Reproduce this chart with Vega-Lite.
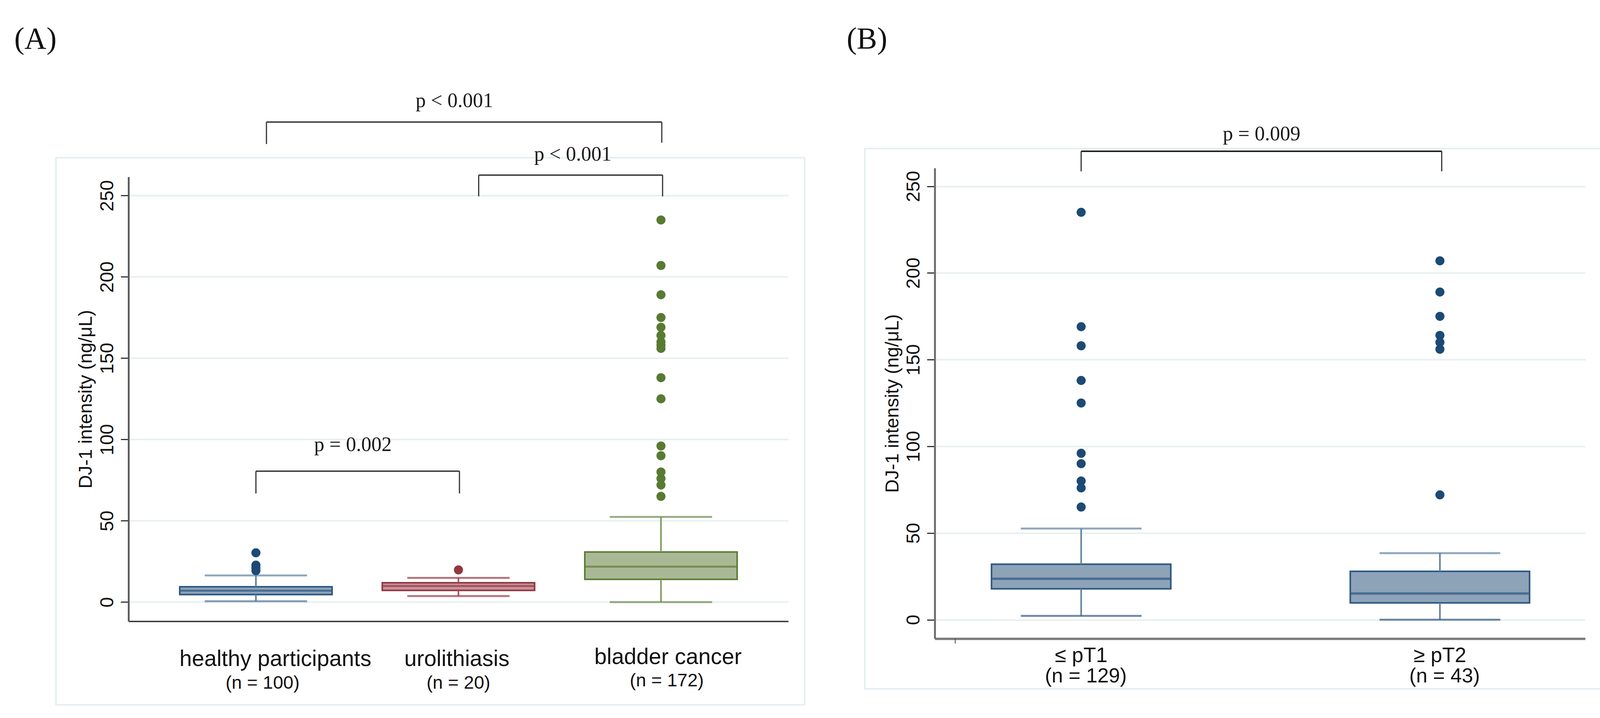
{
  "$schema": "https://vega.github.io/schema/vega-lite/v6.json",
  "background": "white",
  "padding": {"left": 36, "top": 62, "right": 20, "bottom": 10},
  "spacing": 105,
  "datasets": {
    "boxA": [
      {"grp": "healthy participants", "n": "(n = 100)", "pos": 1, "lo": 0.5, "q1": 4.6, "med": 7.0, "q3": 9.4, "hi": 16.4},
      {"grp": "urolithiasis", "n": "(n = 20)", "pos": 2, "lo": 3.7, "q1": 7.2, "med": 9.9, "q3": 11.9, "hi": 14.9},
      {"grp": "bladder cancer", "n": "(n = 172)", "pos": 3, "lo": 0, "q1": 14.0, "med": 21.8, "q3": 30.8, "hi": 52.4}
    ],
    "outA": [
      {"grp": "healthy participants", "pos": 1, "v": 30.3},
      {"grp": "healthy participants", "pos": 1, "v": 22.7},
      {"grp": "healthy participants", "pos": 1, "v": 21.0},
      {"grp": "healthy participants", "pos": 1, "v": 19.3},
      {"grp": "urolithiasis", "pos": 2, "v": 19.8},
      {"grp": "bladder cancer", "pos": 3, "v": 235},
      {"grp": "bladder cancer", "pos": 3, "v": 207},
      {"grp": "bladder cancer", "pos": 3, "v": 189},
      {"grp": "bladder cancer", "pos": 3, "v": 175},
      {"grp": "bladder cancer", "pos": 3, "v": 169},
      {"grp": "bladder cancer", "pos": 3, "v": 164},
      {"grp": "bladder cancer", "pos": 3, "v": 160},
      {"grp": "bladder cancer", "pos": 3, "v": 158},
      {"grp": "bladder cancer", "pos": 3, "v": 156},
      {"grp": "bladder cancer", "pos": 3, "v": 138},
      {"grp": "bladder cancer", "pos": 3, "v": 125},
      {"grp": "bladder cancer", "pos": 3, "v": 96},
      {"grp": "bladder cancer", "pos": 3, "v": 90},
      {"grp": "bladder cancer", "pos": 3, "v": 80},
      {"grp": "bladder cancer", "pos": 3, "v": 76},
      {"grp": "bladder cancer", "pos": 3, "v": 72},
      {"grp": "bladder cancer", "pos": 3, "v": 65}
    ],
    "brA": [
      {"xa": 1.052, "xb": 3.004, "top": 295.2, "la": 281.7, "lb": 282.5, "xt": 1.98, "yt": 304.3, "label": "p < 0.001"},
      {"xa": 2.1, "xb": 3.008, "top": 262.6, "la": 249.5, "lb": 249.5, "xt": 2.565, "yt": 271.4, "label": "p < 0.001"},
      {"xa": 1.0, "xb": 2.005, "top": 80.5, "la": 66.8, "lb": 66.8, "xt": 1.479, "yt": 92.8, "label": "p = 0.002"}
    ],
    "boxB": [
      {"grp": "≤ pT1", "n": "(n = 129)", "pos": 1, "lo": 2.2, "q1": 17.8, "med": 23.6, "q3": 32.0, "hi": 52.6},
      {"grp": "≥ pT2", "n": "(n = 43)", "pos": 2, "lo": 0, "q1": 9.7, "med": 15.1, "q3": 27.9, "hi": 38.4}
    ],
    "outB": [
      {"pos": 1, "v": 235}, {"pos": 1, "v": 169}, {"pos": 1, "v": 158}, {"pos": 1, "v": 138},
      {"pos": 1, "v": 125}, {"pos": 1, "v": 96}, {"pos": 1, "v": 90}, {"pos": 1, "v": 80},
      {"pos": 1, "v": 76}, {"pos": 1, "v": 65},
      {"pos": 2, "v": 207}, {"pos": 2, "v": 189}, {"pos": 2, "v": 175}, {"pos": 2, "v": 164},
      {"pos": 2, "v": 160}, {"pos": 2, "v": 156}, {"pos": 2, "v": 72}
    ],
    "brB": [
      {"xa": 1.0, "xb": 2.005, "top": 270.2, "la": 258.6, "lb": 258.6, "xt": 1.503, "yt": 276.6, "label": "p = 0.009"}
    ]
  },
  "hconcat": [
    {
      "width": 1689,
      "height": 1159.5,
      "resolve": {"scale": {"color": "independent"}},
      "layer": [
        {
          "data": {"name": "boxA"},
          "mark": {"type": "bar", "size": 390, "strokeWidth": 4},
          "encoding": {
            "x": {"field": "pos", "type": "quantitative", "scale": {"domain": [0.3806, 3.619], "nice": false, "zero": false},
                  "axis": {"title": null, "labels": false, "ticks": false, "grid": false, "domainColor": "#333333", "domainWidth": 3.5}},
            "y": {"field": "q1", "type": "quantitative", "scale": {"domain": [-11.8, 261.5], "range": [1159.5, 22.5], "nice": false, "zero": false},
                  "axis": {"title": "DJ-1 intensity (ng/μL)", "values": [0, 50, 100, 150, 200, 250], "grid": true, "gridColor": "#E8EFF1", "gridWidth": 4,
                           "domainColor": "#555555", "domainWidth": 4.5, "tickColor": "#333333", "tickSize": 20, "tickWidth": 3,
                           "labelAngle": -90, "labelAlign": "center", "labelBaseline": "alphabetic", "labelPadding": 20,
                           "labelFont": "Liberation Sans", "labelFontSize": 48, "labelColor": "#111111",
                           "titleFont": "Liberation Sans", "titleFontSize": 48, "titleFontWeight": "normal", "titleColor": "#111111",
                           "titleAngle": -90, "titleAlign": "center", "titleBaseline": "alphabetic", "titleX": -95, "titleY": 591}},
            "y2": {"field": "q3"},
            "fill": {"field": "grp", "type": "nominal", "scale": {"domain": ["healthy participants", "urolithiasis", "bladder cancer"], "range": ["#8DA3B8", "#C8939A", "#AAB995"]}, "legend": null},
            "stroke": {"field": "grp", "type": "nominal", "scale": {"domain": ["healthy participants", "urolithiasis", "bladder cancer"], "range": ["#2A5682", "#923441", "#5B7B36"]}, "legend": null}
          }
        },
        {
          "data": {"values": [{}]},
          "mark": {"type": "rect", "filled": false, "stroke": "#E6EEF1", "strokeWidth": 4},
          "encoding": {
            "x": {"datum": 0.0125, "type": "quantitative", "scale": {"domain": [0.3806, 3.619], "nice": false, "zero": false}},
            "x2": {"datum": 3.7095},
            "y": {"datum": 273.3, "type": "quantitative", "scale": {"domain": [-11.8, 261.5], "range": [1159.5, 22.5], "nice": false, "zero": false}},
            "y2": {"datum": -63.2}
          }
        },
        {
          "data": {"name": "boxA"},
          "mark": {"type": "rule", "strokeWidth": 4},
          "encoding": {
            "x": {"field": "pos", "type": "quantitative", "scale": {"domain": [0.3806, 3.619], "nice": false, "zero": false}},
            "y": {"field": "lo", "type": "quantitative", "scale": {"domain": [-11.8, 261.5], "range": [1159.5, 22.5], "nice": false, "zero": false}},
            "y2": {"field": "q1"},
            "color": {"field": "grp", "type": "nominal", "scale": {"domain": ["healthy participants", "urolithiasis", "bladder cancer"], "range": ["#5E81A2", "#A4505A", "#7F9B62"]}, "legend": null}
          }
        },
        {
          "data": {"name": "boxA"},
          "mark": {"type": "rule", "strokeWidth": 4},
          "encoding": {
            "x": {"field": "pos", "type": "quantitative", "scale": {"domain": [0.3806, 3.619], "nice": false, "zero": false}},
            "y": {"field": "q3", "type": "quantitative", "scale": {"domain": [-11.8, 261.5], "range": [1159.5, 22.5], "nice": false, "zero": false}},
            "y2": {"field": "hi"},
            "color": {"field": "grp", "type": "nominal", "scale": {"domain": ["healthy participants", "urolithiasis", "bladder cancer"], "range": ["#5E81A2", "#A4505A", "#7F9B62"]}, "legend": null}
          }
        },
        {
          "data": {"name": "boxA"},
          "mark": {"type": "tick", "orient": "horizontal", "size": 262, "thickness": 5},
          "encoding": {
            "x": {"field": "pos", "type": "quantitative", "scale": {"domain": [0.3806, 3.619], "nice": false, "zero": false}},
            "y": {"field": "lo", "type": "quantitative", "scale": {"domain": [-11.8, 261.5], "range": [1159.5, 22.5], "nice": false, "zero": false}},
            "color": {"field": "grp", "type": "nominal", "scale": {"domain": ["healthy participants", "urolithiasis", "bladder cancer"], "range": ["#4F7498", "#963A45", "#6E8C50"]}, "legend": null}
          }
        },
        {
          "data": {"name": "boxA"},
          "mark": {"type": "tick", "orient": "horizontal", "size": 262, "thickness": 5},
          "encoding": {
            "x": {"field": "pos", "type": "quantitative", "scale": {"domain": [0.3806, 3.619], "nice": false, "zero": false}},
            "y": {"field": "hi", "type": "quantitative", "scale": {"domain": [-11.8, 261.5], "range": [1159.5, 22.5], "nice": false, "zero": false}},
            "color": {"field": "grp", "type": "nominal", "scale": {"domain": ["healthy participants", "urolithiasis", "bladder cancer"], "range": ["#5E81A2", "#963A45", "#6E8C50"]}, "legend": null}
          }
        },
        {
          "data": {"name": "boxA"},
          "mark": {"type": "tick", "orient": "horizontal", "size": 386, "thickness": 5},
          "encoding": {
            "x": {"field": "pos", "type": "quantitative", "scale": {"domain": [0.3806, 3.619], "nice": false, "zero": false}},
            "y": {"field": "med", "type": "quantitative", "scale": {"domain": [-11.8, 261.5], "range": [1159.5, 22.5], "nice": false, "zero": false}},
            "color": {"field": "grp", "type": "nominal", "scale": {"domain": ["healthy participants", "urolithiasis", "bladder cancer"], "range": ["#2A5682", "#923441", "#5B7B36"]}, "legend": null}
          }
        },
        {
          "data": {"name": "outA"},
          "mark": {"type": "point", "filled": true, "shape": "circle", "size": 540, "opacity": 1},
          "encoding": {
            "x": {"field": "pos", "type": "quantitative", "scale": {"domain": [0.3806, 3.619], "nice": false, "zero": false}},
            "y": {"field": "v", "type": "quantitative", "scale": {"domain": [-11.8, 261.5], "range": [1159.5, 22.5], "nice": false, "zero": false}},
            "color": {"field": "grp", "type": "nominal", "scale": {"domain": ["healthy participants", "urolithiasis", "bladder cancer"], "range": ["#1C4A74", "#933640", "#587A32"]}, "legend": null}
          }
        },
        {
          "data": {"name": "brA"},
          "mark": {"type": "rule", "color": "#333333", "strokeWidth": 3.5},
          "encoding": {
            "x": {"field": "xa", "type": "quantitative", "scale": {"domain": [0.3806, 3.619], "nice": false, "zero": false}},
            "x2": {"field": "xb"},
            "y": {"field": "top", "type": "quantitative", "scale": {"domain": [-11.8, 261.5], "range": [1159.5, 22.5], "nice": false, "zero": false}}
          }
        },
        {
          "data": {"name": "brA"},
          "mark": {"type": "rule", "color": "#333333", "strokeWidth": 3},
          "encoding": {
            "x": {"field": "xa", "type": "quantitative", "scale": {"domain": [0.3806, 3.619], "nice": false, "zero": false}},
            "y": {"field": "top", "type": "quantitative", "scale": {"domain": [-11.8, 261.5], "range": [1159.5, 22.5], "nice": false, "zero": false}},
            "y2": {"field": "la"}
          }
        },
        {
          "data": {"name": "brA"},
          "mark": {"type": "rule", "color": "#333333", "strokeWidth": 3},
          "encoding": {
            "x": {"field": "xb", "type": "quantitative", "scale": {"domain": [0.3806, 3.619], "nice": false, "zero": false}},
            "y": {"field": "top", "type": "quantitative", "scale": {"domain": [-11.8, 261.5], "range": [1159.5, 22.5], "nice": false, "zero": false}},
            "y2": {"field": "lb"}
          }
        },
        {
          "data": {"name": "brA"},
          "mark": {"type": "text", "font": "Liberation Serif", "fontSize": 52, "align": "center", "baseline": "alphabetic", "color": "#1a1a1a"},
          "encoding": {
            "x": {"field": "xt", "type": "quantitative", "scale": {"domain": [0.3806, 3.619], "nice": false, "zero": false}},
            "y": {"field": "yt", "type": "quantitative", "scale": {"domain": [-11.8, 261.5], "range": [1159.5, 22.5], "nice": false, "zero": false}},
            "text": {"field": "label"}
          }
        },
        {
          "data": {"name": "boxA"},
          "transform": [{"filter": "datum.pos == 1"}],
          "mark": {"type": "text", "font": "Liberation Sans", "fontSize": 57, "align": "center", "baseline": "alphabetic", "color": "#111111", "dx": 50},
          "encoding": {
            "x": {"field": "pos", "type": "quantitative", "scale": {"domain": [0.3806, 3.619], "nice": false, "zero": false}},
            "y": {"datum": -39.4, "type": "quantitative", "scale": {"domain": [-11.8, 261.5], "range": [1159.5, 22.5], "nice": false, "zero": false}},
            "text": {"field": "grp"}
          }
        },
        {
          "data": {"name": "boxA"},
          "transform": [{"filter": "datum.pos == 2"}],
          "mark": {"type": "text", "font": "Liberation Sans", "fontSize": 57, "align": "center", "baseline": "alphabetic", "color": "#111111", "dx": -4},
          "encoding": {
            "x": {"field": "pos", "type": "quantitative", "scale": {"domain": [0.3806, 3.619], "nice": false, "zero": false}},
            "y": {"datum": -39.4, "type": "quantitative", "scale": {"domain": [-11.8, 261.5], "range": [1159.5, 22.5], "nice": false, "zero": false}},
            "text": {"field": "grp"}
          }
        },
        {
          "data": {"name": "boxA"},
          "transform": [{"filter": "datum.pos == 3"}],
          "mark": {"type": "text", "font": "Liberation Sans", "fontSize": 57, "align": "center", "baseline": "alphabetic", "color": "#111111", "dx": 18},
          "encoding": {
            "x": {"field": "pos", "type": "quantitative", "scale": {"domain": [0.3806, 3.619], "nice": false, "zero": false}},
            "y": {"datum": -38.2, "type": "quantitative", "scale": {"domain": [-11.8, 261.5], "range": [1159.5, 22.5], "nice": false, "zero": false}},
            "text": {"field": "grp"}
          }
        },
        {
          "data": {"name": "boxA"},
          "transform": [{"filter": "datum.pos == 1"}],
          "mark": {"type": "text", "font": "Liberation Sans", "fontSize": 47, "align": "center", "baseline": "alphabetic", "color": "#111111", "dx": 17},
          "encoding": {
            "x": {"field": "pos", "type": "quantitative", "scale": {"domain": [0.3806, 3.619], "nice": false, "zero": false}},
            "y": {"datum": -53.2, "type": "quantitative", "scale": {"domain": [-11.8, 261.5], "range": [1159.5, 22.5], "nice": false, "zero": false}},
            "text": {"field": "n"}
          }
        },
        {
          "data": {"name": "boxA"},
          "transform": [{"filter": "datum.pos == 2"}],
          "mark": {"type": "text", "font": "Liberation Sans", "fontSize": 47, "align": "center", "baseline": "alphabetic", "color": "#111111"},
          "encoding": {
            "x": {"field": "pos", "type": "quantitative", "scale": {"domain": [0.3806, 3.619], "nice": false, "zero": false}},
            "y": {"datum": -53.2, "type": "quantitative", "scale": {"domain": [-11.8, 261.5], "range": [1159.5, 22.5], "nice": false, "zero": false}},
            "text": {"field": "n"}
          }
        },
        {
          "data": {"name": "boxA"},
          "transform": [{"filter": "datum.pos == 3"}],
          "mark": {"type": "text", "font": "Liberation Sans", "fontSize": 47, "align": "center", "baseline": "alphabetic", "color": "#111111", "dx": 15},
          "encoding": {
            "x": {"field": "pos", "type": "quantitative", "scale": {"domain": [0.3806, 3.619], "nice": false, "zero": false}},
            "y": {"datum": -51.9, "type": "quantitative", "scale": {"domain": [-11.8, 261.5], "range": [1159.5, 22.5], "nice": false, "zero": false}},
            "text": {"field": "n"}
          }
        },
        {
          "data": {"values": [{"t": "(A)"}]},
          "mark": {"type": "text", "font": "Liberation Serif", "fontSize": 78, "align": "left", "baseline": "alphabetic", "color": "#111111"},
          "encoding": {
            "x": {"datum": -0.193, "type": "quantitative", "scale": {"domain": [0.3806, 3.619], "nice": false, "zero": false}},
            "y": {"datum": 340.4, "type": "quantitative", "scale": {"domain": [-11.8, 261.5], "range": [1159.5, 22.5], "nice": false, "zero": false}},
            "text": {"field": "t"}
          }
        }
      ]
    },
    {
      "width": 1665,
      "height": 1204,
      "layer": [
        {
          "data": {"name": "boxB"},
          "mark": {"type": "bar", "size": 459, "strokeWidth": 4, "fill": "#8DA3B8", "stroke": "#2B5682"},
          "encoding": {
            "x": {"field": "pos", "type": "quantitative", "scale": {"domain": [0.5974, 2.3994], "nice": false, "zero": false},
                  "axis": {"title": null, "labels": false, "ticks": false, "grid": false, "domainColor": "#7A7A7A", "domainWidth": 6}},
            "y": {"field": "q1", "type": "quantitative", "scale": {"domain": [-10.93, 260.5], "nice": false, "zero": false},
                  "axis": {"title": "DJ-1 intensity (ng/μL)", "values": [0, 50, 100, 150, 200, 250], "grid": true, "gridColor": "#E8EFF1", "gridWidth": 4,
                           "domainColor": "#6E6E6E", "domainWidth": 5, "tickColor": "#333333", "tickSize": 20, "tickWidth": 3,
                           "labelAngle": -90, "labelAlign": "center", "labelBaseline": "alphabetic", "labelPadding": 20,
                           "labelFont": "Liberation Sans", "labelFontSize": 48, "labelColor": "#111111",
                           "titleFont": "Liberation Sans", "titleFontSize": 48, "titleFontWeight": "normal", "titleColor": "#111111",
                           "titleAngle": -90, "titleAlign": "center", "titleBaseline": "alphabetic", "titleX": -94, "titleY": 602}},
            "y2": {"field": "q3"}
          }
        },
        {
          "data": {"values": [{}]},
          "mark": {"type": "rect", "filled": false, "stroke": "#E6EEF1", "strokeWidth": 4},
          "encoding": {
            "x": {"datum": 0.397, "type": "quantitative", "scale": {"domain": [0.5974, 2.3994], "nice": false, "zero": false}},
            "x2": {"datum": 2.45},
            "y": {"datum": 271.8, "type": "quantitative", "scale": {"domain": [-10.93, 260.5], "nice": false, "zero": false}},
            "y2": {"datum": -39.9}
          }
        },
        {
          "data": {"values": [{}]},
          "mark": {"type": "rule", "color": "#444444", "strokeWidth": 2},
          "encoding": {
            "x": {"datum": 0.649, "type": "quantitative", "scale": {"domain": [0.5974, 2.3994], "nice": false, "zero": false}},
            "y": {"datum": -10.93, "type": "quantitative", "scale": {"domain": [-10.93, 260.5], "nice": false, "zero": false}},
            "y2": {"datum": -13.75}
          }
        },
        {
          "data": {"name": "boxB"},
          "mark": {"type": "rule", "strokeWidth": 4, "color": "#5E81A2"},
          "encoding": {
            "x": {"field": "pos", "type": "quantitative", "scale": {"domain": [0.5974, 2.3994], "nice": false, "zero": false}},
            "y": {"field": "lo", "type": "quantitative", "scale": {"domain": [-10.93, 260.5], "nice": false, "zero": false}},
            "y2": {"field": "q1"}
          }
        },
        {
          "data": {"name": "boxB"},
          "mark": {"type": "rule", "strokeWidth": 4, "color": "#5E81A2"},
          "encoding": {
            "x": {"field": "pos", "type": "quantitative", "scale": {"domain": [0.5974, 2.3994], "nice": false, "zero": false}},
            "y": {"field": "q3", "type": "quantitative", "scale": {"domain": [-10.93, 260.5], "nice": false, "zero": false}},
            "y2": {"field": "hi"}
          }
        },
        {
          "data": {"name": "boxB"},
          "mark": {"type": "tick", "orient": "horizontal", "size": 309, "thickness": 5, "color": "#2F5A85"},
          "encoding": {
            "x": {"field": "pos", "type": "quantitative", "scale": {"domain": [0.5974, 2.3994], "nice": false, "zero": false}},
            "y": {"field": "lo", "type": "quantitative", "scale": {"domain": [-10.93, 260.5], "nice": false, "zero": false}}
          }
        },
        {
          "data": {"name": "boxB"},
          "mark": {"type": "tick", "orient": "horizontal", "size": 309, "thickness": 5, "color": "#5E81A2"},
          "encoding": {
            "x": {"field": "pos", "type": "quantitative", "scale": {"domain": [0.5974, 2.3994], "nice": false, "zero": false}},
            "y": {"field": "hi", "type": "quantitative", "scale": {"domain": [-10.93, 260.5], "nice": false, "zero": false}}
          }
        },
        {
          "data": {"name": "boxB"},
          "mark": {"type": "tick", "orient": "horizontal", "size": 455, "thickness": 6, "color": "#2B5682"},
          "encoding": {
            "x": {"field": "pos", "type": "quantitative", "scale": {"domain": [0.5974, 2.3994], "nice": false, "zero": false}},
            "y": {"field": "med", "type": "quantitative", "scale": {"domain": [-10.93, 260.5], "nice": false, "zero": false}}
          }
        },
        {
          "data": {"name": "outB"},
          "mark": {"type": "point", "filled": true, "shape": "circle", "size": 540, "opacity": 1, "color": "#1C4A74"},
          "encoding": {
            "x": {"field": "pos", "type": "quantitative", "scale": {"domain": [0.5974, 2.3994], "nice": false, "zero": false}},
            "y": {"field": "v", "type": "quantitative", "scale": {"domain": [-10.93, 260.5], "nice": false, "zero": false}}
          }
        },
        {
          "data": {"name": "brB"},
          "mark": {"type": "rule", "color": "#222222", "strokeWidth": 4},
          "encoding": {
            "x": {"field": "xa", "type": "quantitative", "scale": {"domain": [0.5974, 2.3994], "nice": false, "zero": false}},
            "x2": {"field": "xb"},
            "y": {"field": "top", "type": "quantitative", "scale": {"domain": [-10.93, 260.5], "nice": false, "zero": false}}
          }
        },
        {
          "data": {"name": "brB"},
          "mark": {"type": "rule", "color": "#333333", "strokeWidth": 3},
          "encoding": {
            "x": {"field": "xa", "type": "quantitative", "scale": {"domain": [0.5974, 2.3994], "nice": false, "zero": false}},
            "y": {"field": "top", "type": "quantitative", "scale": {"domain": [-10.93, 260.5], "nice": false, "zero": false}},
            "y2": {"field": "la"}
          }
        },
        {
          "data": {"name": "brB"},
          "mark": {"type": "rule", "color": "#333333", "strokeWidth": 3},
          "encoding": {
            "x": {"field": "xb", "type": "quantitative", "scale": {"domain": [0.5974, 2.3994], "nice": false, "zero": false}},
            "y": {"field": "top", "type": "quantitative", "scale": {"domain": [-10.93, 260.5], "nice": false, "zero": false}},
            "y2": {"field": "lb"}
          }
        },
        {
          "data": {"name": "brB"},
          "mark": {"type": "text", "font": "Liberation Serif", "fontSize": 52, "align": "center", "baseline": "alphabetic", "color": "#1a1a1a"},
          "encoding": {
            "x": {"field": "xt", "type": "quantitative", "scale": {"domain": [0.5974, 2.3994], "nice": false, "zero": false}},
            "y": {"field": "yt", "type": "quantitative", "scale": {"domain": [-10.93, 260.5], "nice": false, "zero": false}},
            "text": {"field": "label"}
          }
        },
        {
          "data": {"name": "boxB"},
          "mark": {"type": "text", "font": "Liberation Sans", "fontSize": 53, "align": "center", "baseline": "alphabetic", "color": "#111111"},
          "encoding": {
            "x": {"field": "pos", "type": "quantitative", "scale": {"domain": [0.5974, 2.3994], "nice": false, "zero": false}},
            "y": {"datum": -24.5, "type": "quantitative", "scale": {"domain": [-10.93, 260.5], "nice": false, "zero": false}},
            "text": {"field": "grp"}
          }
        },
        {
          "data": {"name": "boxB"},
          "mark": {"type": "text", "font": "Liberation Sans", "fontSize": 52, "align": "center", "baseline": "alphabetic", "color": "#111111", "dx": 12},
          "encoding": {
            "x": {"field": "pos", "type": "quantitative", "scale": {"domain": [0.5974, 2.3994], "nice": false, "zero": false}},
            "y": {"datum": -36.1, "type": "quantitative", "scale": {"domain": [-10.93, 260.5], "nice": false, "zero": false}},
            "text": {"field": "n"}
          }
        },
        {
          "data": {"values": [{"t": "(B)"}]},
          "mark": {"type": "text", "font": "Liberation Serif", "fontSize": 78, "align": "left", "baseline": "alphabetic", "color": "#111111"},
          "encoding": {
            "x": {"datum": 0.3463, "type": "quantitative", "scale": {"domain": [0.5974, 2.3994], "nice": false, "zero": false}},
            "y": {"datum": 329.4, "type": "quantitative", "scale": {"domain": [-10.93, 260.5], "nice": false, "zero": false}},
            "text": {"field": "t"}
          }
        }
      ]
    }
  ],
  "config": {
    "view": {"stroke": null},
    "font": "Liberation Sans"
  }
}
